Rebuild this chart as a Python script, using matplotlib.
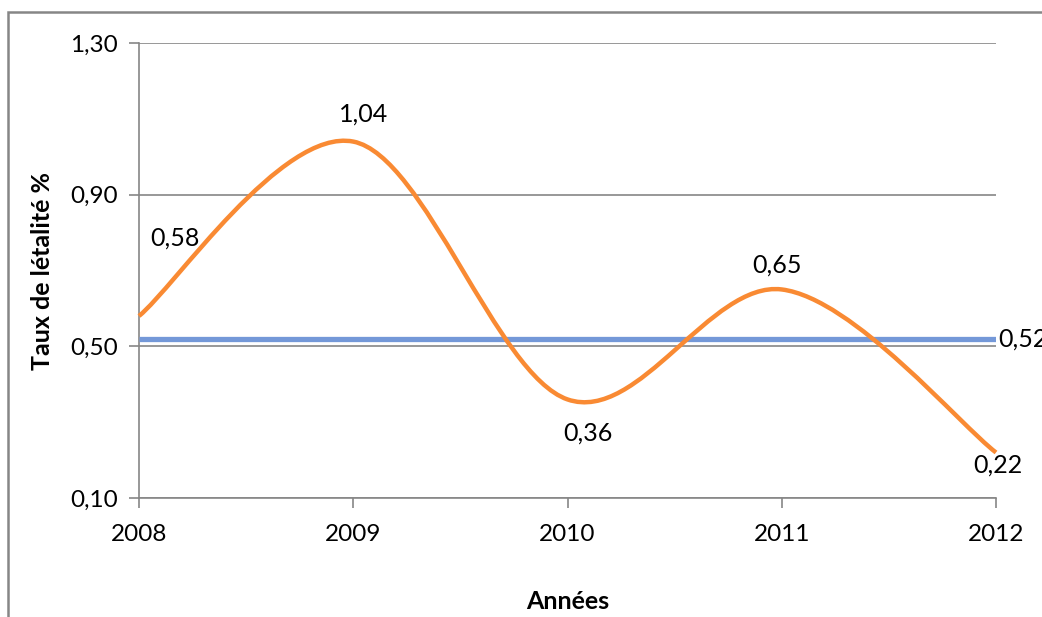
import numpy as np
import matplotlib.pyplot as plt
from matplotlib.path import Path
from matplotlib.patches import PathPatch, Rectangle

plt.rcParams['font.family'] = ['Lato', 'DejaVu Sans']

### Data
years = ['2008', '2009', '2010', '2011', '2012']
rates = [0.58, 1.04, 0.36, 0.65, 0.22]      # taux de létalité (%)
mean_rate = 0.52
yticks = [0.10, 0.50, 0.90, 1.30]

orange = '#F98A33'
blue = '#7498D8'
grey = '#868686'


def smooth_path(x, y):
    """Bezier path through the points, tangents as in spreadsheet smoothed lines."""
    p = np.column_stack([x, y]).astype(float)
    ext = np.vstack([p[0], p, p[-1]])
    verts = [p[0]]
    codes = [Path.MOVETO]
    for i in range(len(p) - 1):
        p0, p1, p2, p3 = ext[i], ext[i + 1], ext[i + 2], ext[i + 3]
        c1 = p1 + (p2 - p0) / 6.0
        c2 = p2 - (p3 - p1) / 6.0
        verts += [c1, c2, p2]
        codes += [Path.CURVE4] * 3
    return Path(verts, codes)


fig = plt.figure(figsize=(10.42, 6.17), dpi=100)
ax = fig.add_axes([139/1042, 119/617, 857/1042, 455/617])

xs = np.arange(len(years))

# chart frame (partly outside the canvas)
fig.patches.append(Rectangle((8/1042, -0.1), 1.2, (617-12)/617 + 0.1,
                             transform=fig.transFigure, fill=False,
                             edgecolor=grey, linewidth=1.8, zorder=0))

ax.set_xlim(0, len(years) - 1)
ax.set_ylim(yticks[0], yticks[-1])
ax.set_yticks(yticks)
ax.set_yticklabels([f'{v:.2f}'.replace('.', ',') for v in yticks])
ax.set_xticks(xs)
ax.set_xticklabels(years)

ax.grid(axis='y', color=grey, linewidth=1.2)
ax.set_axisbelow(True)
for s in ['top', 'right']:
    ax.spines[s].set_visible(False)
for s in ['left', 'bottom']:
    ax.spines[s].set_color(grey)
    ax.spines[s].set_linewidth(1.2)
ax.tick_params(axis='both', colors=grey, labelcolor='black', labelsize=17.5,
               length=7, width=1.2)
ax.tick_params(axis='x', pad=12)
ax.tick_params(axis='y', pad=8)

# mean line
ax.plot([xs[0], xs[-1]], [mean_rate, mean_rate], color=blue, linewidth=3.8,
        solid_capstyle='butt', zorder=3)
ax.text(xs[-1] + 0.01, mean_rate, f'{mean_rate:.2f}'.replace('.', ','),
        fontsize=18, ha='left', va='center', zorder=5)

# smoothed rate curve
ax.add_patch(PathPatch(smooth_path(xs, rates), facecolor='none',
                       edgecolor=orange, linewidth=3.2, zorder=4,
                       clip_on=False))

# value labels
offsets = [(36, 78), (10, 28), (20, -34), (-5, 24), (2, -13)]
for x, v, (dx, dy) in zip(xs, rates, offsets):
    ax.annotate(f'{v:.2f}'.replace('.', ','), (x, v), xytext=(dx, dy),
                textcoords='offset pixels', ha='center', va='center',
                fontsize=18)

ax.set_xlabel('Années', fontsize=18, fontweight='bold', labelpad=32)
ax.set_ylabel('Taux de létalité %', fontsize=18, fontweight='bold', labelpad=12)

fig.savefig('out.png', dpi=100)
